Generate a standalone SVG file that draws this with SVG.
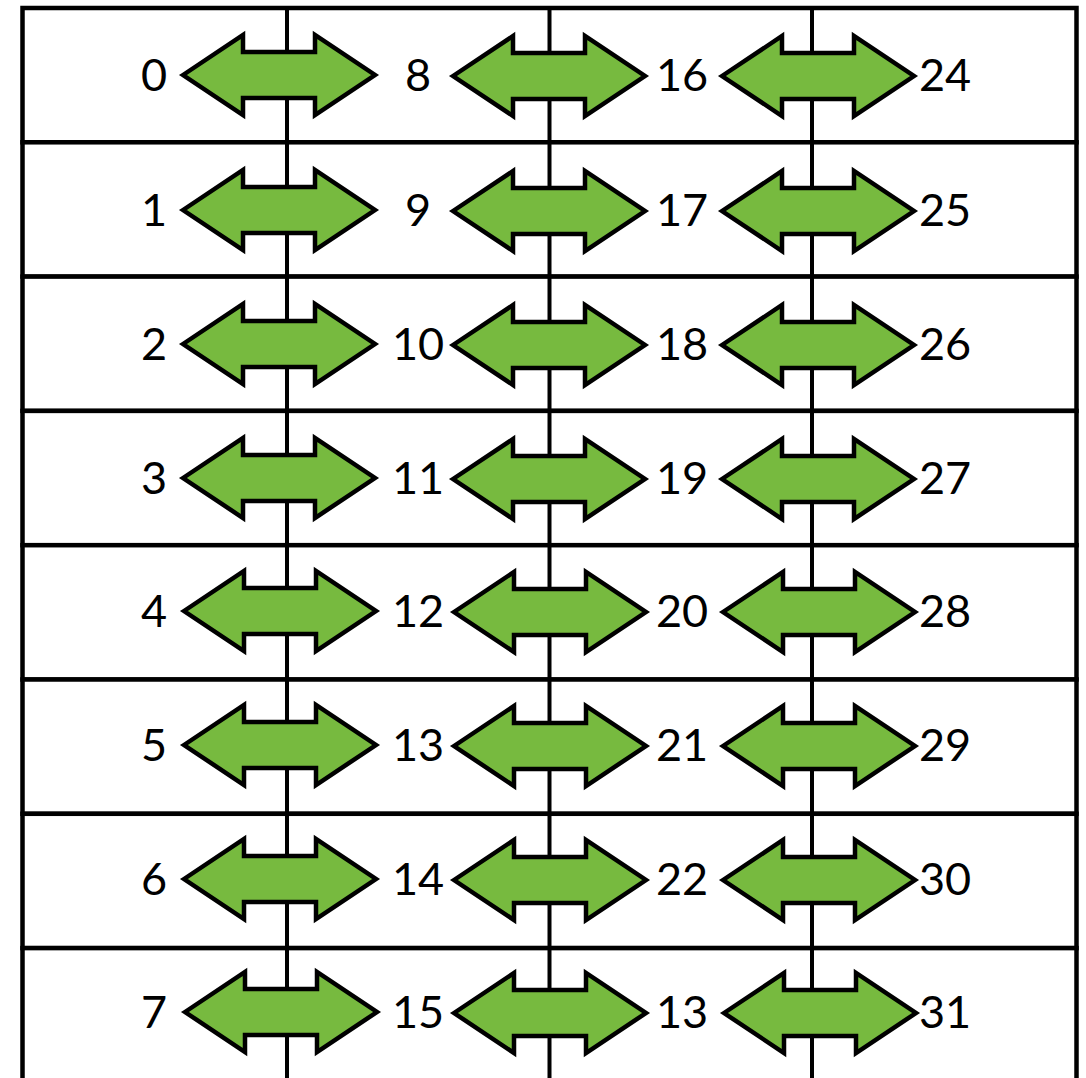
<svg xmlns="http://www.w3.org/2000/svg" xmlns:xlink="http://www.w3.org/1999/xlink" width="1086" height="1078" viewBox="0 0 1086 1078">
<style>
.row{fill:#fff;stroke:#000;stroke-width:4.5}
.lab{font-family:Lato,"Liberation Sans",sans-serif;font-size:45px;fill:#000;text-anchor:middle}
.arr{fill:#77BA3F;stroke:#000;stroke-width:4.5;stroke-linejoin:miter}
.vl{stroke:#000;stroke-width:4}
</style>
<defs>
<path id="dbl" class="arr" d="M-96,0 L-36,-40 L-36,-23 L36,-23 L36,-40 L96,0 L36,40 L36,23 L-36,23 L-36,40 Z"/>
</defs>
<rect width="1086" height="1078" fill="#fff"/>
<g id="rows">
<rect class="row" x="22.5" y="8" width="1054" height="134.3"/>
<rect class="row" x="22.5" y="142.3" width="1054" height="134.3"/>
<rect class="row" x="22.5" y="276.6" width="1054" height="134.3"/>
<rect class="row" x="22.5" y="410.9" width="1054" height="134.3"/>
<rect class="row" x="22.5" y="545.2" width="1054" height="134.3"/>
<rect class="row" x="22.5" y="679.5" width="1054" height="134.3"/>
<rect class="row" x="22.5" y="813.8" width="1054" height="134.3"/>
<rect class="row" x="22.5" y="948.1" width="1054" height="160"/>
</g>
<g id="connectors">
<line class="vl" x1="287" y1="8" x2="287" y2="1078"/>
<line class="vl" x1="549.5" y1="8" x2="549.5" y2="1078"/>
<line class="vl" x1="812" y1="8" x2="812" y2="1078"/>
</g>
<g id="row0">
<use xlink:href="#dbl" x="279" y="75"/><use xlink:href="#dbl" x="549" y="76"/><use xlink:href="#dbl" x="818" y="76"/>
<text class="lab" x="154" y="91">0</text><text class="lab" x="418" y="91">8</text><text class="lab" x="682" y="91">16</text><text class="lab" x="945" y="91">24</text>
</g>
<g id="row1">
<use xlink:href="#dbl" x="279" y="210"/><use xlink:href="#dbl" x="549" y="211"/><use xlink:href="#dbl" x="818" y="211"/>
<text class="lab" x="154" y="226">1</text><text class="lab" x="418" y="226">9</text><text class="lab" x="682" y="226">17</text><text class="lab" x="945" y="226">25</text>
</g>
<g id="row2">
<use xlink:href="#dbl" x="279" y="344"/><use xlink:href="#dbl" x="549" y="345"/><use xlink:href="#dbl" x="818" y="345"/>
<text class="lab" x="154" y="360">2</text><text class="lab" x="418" y="360">10</text><text class="lab" x="682" y="360">18</text><text class="lab" x="945" y="360">26</text>
</g>
<g id="row3">
<use xlink:href="#dbl" x="279" y="478"/><use xlink:href="#dbl" x="549" y="479"/><use xlink:href="#dbl" x="818" y="479"/>
<text class="lab" x="154" y="494">3</text><text class="lab" x="418" y="494">11</text><text class="lab" x="682" y="494">19</text><text class="lab" x="945" y="494">27</text>
</g>
<g id="row4">
<use xlink:href="#dbl" x="280" y="611"/><use xlink:href="#dbl" x="550" y="612"/><use xlink:href="#dbl" x="819" y="612"/>
<text class="lab" x="154" y="627">4</text><text class="lab" x="418" y="627">12</text><text class="lab" x="682" y="627">20</text><text class="lab" x="945" y="627">28</text>
</g>
<g id="row5">
<use xlink:href="#dbl" x="280" y="745"/><use xlink:href="#dbl" x="550" y="746"/><use xlink:href="#dbl" x="819" y="746"/>
<text class="lab" x="154" y="761">5</text><text class="lab" x="418" y="761">13</text><text class="lab" x="682" y="761">21</text><text class="lab" x="945" y="761">29</text>
</g>
<g id="row6">
<use xlink:href="#dbl" x="280" y="879"/><use xlink:href="#dbl" x="550" y="880"/><use xlink:href="#dbl" x="819" y="880"/>
<text class="lab" x="154" y="895">6</text><text class="lab" x="418" y="895">14</text><text class="lab" x="682" y="895">22</text><text class="lab" x="945" y="895">30</text>
</g>
<g id="row7">
<use xlink:href="#dbl" x="281" y="1012"/><use xlink:href="#dbl" x="550" y="1013"/><use xlink:href="#dbl" x="820" y="1013"/>
<text class="lab" x="154" y="1028">7</text><text class="lab" x="418" y="1028">15</text><text class="lab" x="682" y="1028">13</text><text class="lab" x="945" y="1028">31</text>
</g>
</svg>
